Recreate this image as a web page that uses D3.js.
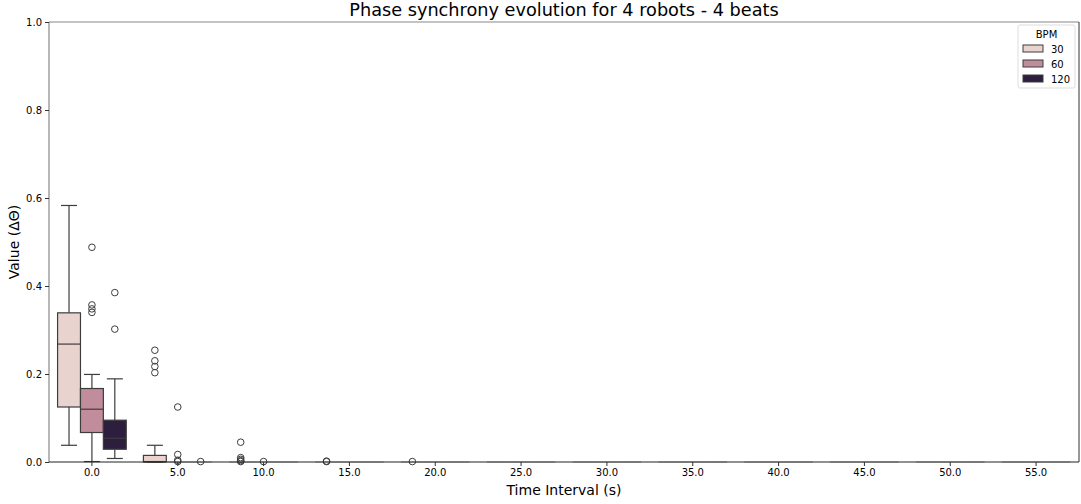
<!DOCTYPE html>
<html><head>
<meta charset="utf-8">
<script src="https://cdn.jsdelivr.net/npm/d3@7"></script>
<style>
  body { margin: 0; background: #fff; }
  svg text { font-family: "DejaVu Sans", sans-serif; fill: #000; }
</style>
</head>
<body>
<svg width="1081" height="504"></svg>
<script>
// categories on the x axis (time interval, s)
var categories = ["0.0","5.0","10.0","15.0","20.0","25.0","30.0","35.0","40.0","45.0","50.0","55.0"];
var bpms = [30, 60, 120];
var yTicks = [0.0, 0.2, 0.4, 0.6, 0.8, 1.0];

// box stats per category: [whisker low, q1, median, q3, whisker high]
var box30 = [[0.038,0.125,0.268,0.339,0.583],[0,0,0.001,0.015,0.038],[0,0,0,0,0],[0,0,0,0,0],[0,0,0,0,0],[0,0,0,0,0],
             [0,0,0,0,0],[0,0,0,0,0],[0,0,0,0,0],[0,0,0,0,0],[0,0,0,0,0],[0,0,0,0,0]];
var box60 = [[0.001,0.067,0.120,0.167,0.199],[0,0,0,0,0],[0,0,0,0,0],[0,0,0,0,0],[0,0,0,0,0],[0,0,0,0,0],
             [0,0,0,0,0],[0,0,0,0,0],[0,0,0,0,0],[0,0,0,0,0],[0,0,0,0,0],[0,0,0,0,0]];
var box120 = [[0.008,0.029,0.054,0.095,0.189],[0,0,0,0,0],[0,0,0,0,0],[0,0,0,0,0],[0,0,0,0,0],[0,0,0,0,0],
              [0,0,0,0,0],[0,0,0,0,0],[0,0,0,0,0],[0,0,0,0,0],[0,0,0,0,0],[0,0,0,0,0]];

// outliers per category
var out30 = [[],[0.254,0.230,0.217,0.203],[0.045,0.010,0.006,0.003,0.001],[0.002,0.001],[0.001],[],[],[],[],[],[],[]];
var out60 = [[0.488,0.357,0.348,0.340],[0.125,0.017,0.004,0.001],[0.001],[],[],[],[],[],[],[],[],[]];
var out120 = [[0.385,0.302],[0.001],[],[],[],[],[],[],[],[],[],[]];

var colors = {30: "#e9d3cf", 60: "#c18d9d", 120: "#2d1e3e"};
var boxes = {30: box30, 60: box60, 120: box120};
var outs = {30: out30, 60: out60, 120: out120};

var svg = d3.select("svg");
var mLeft = 49, mRight = 1079, mTop = 22, mBottom = 462;

var x = d3.scaleBand().domain(categories).range([mLeft, mRight]).padding(0);
var bw = x.bandwidth();
var xh = d3.scaleBand().domain(bpms).range([-0.4 * bw, 0.4 * bw]).padding(0);
var y = d3.scaleLinear().domain([0, 1]).range([mBottom, mTop]);

var lineCol = "#3d3d3d";

// boxes
bpms.forEach(function(b) {
  var g = svg.append("g");
  var w = xh.bandwidth();
  categories.forEach(function(c, i) {
    var s = boxes[b][i];
    var x0 = x(c) + bw / 2 + xh(b);
    var cx = x0 + w / 2;
    var flat = s[4] === 0;
    var stroke = flat ? "#b0b0b0" : lineCol;
    // whiskers
    if (!flat) {
      g.append("line").attr("x1", cx).attr("x2", cx).attr("y1", y(s[3])).attr("y2", y(s[4]))
        .attr("stroke", stroke).attr("stroke-width", 1.2);
      g.append("line").attr("x1", cx).attr("x2", cx).attr("y1", y(s[1])).attr("y2", y(s[0]))
        .attr("stroke", stroke).attr("stroke-width", 1.2);
      g.append("line").attr("x1", cx - w * 0.35).attr("x2", cx + w * 0.35).attr("y1", y(s[4])).attr("y2", y(s[4]))
        .attr("stroke", stroke).attr("stroke-width", 1.2);
      g.append("line").attr("x1", cx - w * 0.35).attr("x2", cx + w * 0.35).attr("y1", y(s[0])).attr("y2", y(s[0]))
        .attr("stroke", stroke).attr("stroke-width", 1.2);
    }
    g.append("rect").attr("x", x0).attr("width", w)
      .attr("y", y(s[3])).attr("height", Math.max(0, y(s[1]) - y(s[3])))
      .attr("fill", colors[b]).attr("stroke", stroke).attr("stroke-width", 1.2);
    g.append("line").attr("x1", x0).attr("x2", x0 + w).attr("y1", y(s[2])).attr("y2", y(s[2]))
      .attr("stroke", stroke).attr("stroke-width", 1.2);
    // outliers
    g.selectAll(null).data(outs[b][i]).enter().append("circle")
      .attr("cx", cx).attr("cy", function(d) { return y(d); }).attr("r", 3.3)
      .attr("fill", "none").attr("stroke", lineCol).attr("stroke-width", 1);
  });
});

// spines
svg.append("line").attr("x1", mLeft).attr("x2", mRight).attr("y1", mTop).attr("y2", mTop).attr("stroke", "#888").attr("stroke-width", 1.2);
svg.append("line").attr("x1", mLeft).attr("x2", mLeft).attr("y1", mTop).attr("y2", mBottom).attr("stroke", "#888").attr("stroke-width", 1.2);
svg.append("line").attr("x1", mRight).attr("x2", mRight).attr("y1", mTop).attr("y2", mBottom).attr("stroke", "#333").attr("stroke-width", 1);
svg.append("line").attr("x1", mLeft).attr("x2", mRight).attr("y1", mBottom).attr("y2", mBottom).attr("stroke", "#222").attr("stroke-width", 1);

// axes
var xAxis = svg.append("g").attr("transform", "translate(0," + mBottom + ")")
  .call(d3.axisBottom(x).tickSize(4).tickPadding(3));
xAxis.select(".domain").remove();
xAxis.selectAll("text").style("font-size", "10px");
xAxis.selectAll("line").attr("stroke", "#333");

var yAxis = svg.append("g").attr("transform", "translate(" + mLeft + ",0)")
  .call(d3.axisLeft(y).tickValues(yTicks).tickFormat(d3.format(".1f")).tickSize(4).tickPadding(3));
yAxis.select(".domain").remove();
yAxis.selectAll("text").style("font-size", "10px");
yAxis.selectAll("line").attr("stroke", "#333");

// labels
svg.append("text").attr("x", (mLeft + mRight) / 2).attr("y", 16).attr("text-anchor", "middle")
  .style("font-size", "17.7px").text("Phase synchrony evolution for 4 robots - 4 beats");
svg.append("text").attr("x", (mLeft + mRight) / 2).attr("y", 495).attr("text-anchor", "middle")
  .style("font-size", "14px").text("Time Interval (s)");
svg.append("text").attr("transform", "translate(19," + ((mTop + mBottom) / 2) + ") rotate(-90)")
  .attr("text-anchor", "middle").style("font-size", "14px").text("Value (ΔΘ)");

// legend
var lg = svg.append("g").attr("transform", "translate(1018,25)");
lg.append("rect").attr("width", 57).attr("height", 63).attr("rx", 2)
  .attr("fill", "#fff").attr("stroke", "#ddd").attr("stroke-width", 1);
lg.append("text").attr("x", 28.5).attr("y", 13).attr("text-anchor", "middle").style("font-size", "10px").text("BPM");
bpms.forEach(function(b, i) {
  lg.append("rect").attr("x", 5).attr("y", 20 + i * 15).attr("width", 20).attr("height", 7)
    .attr("fill", colors[b]).attr("stroke", lineCol).attr("stroke-width", 1);
  lg.append("text").attr("x", 33).attr("y", 27.5 + i * 15).style("font-size", "10px").text(b);
});
</script>
</body>
</html>
